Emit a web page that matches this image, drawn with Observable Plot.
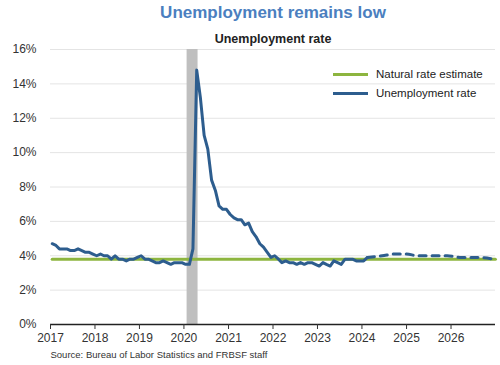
<!DOCTYPE html>
<html><head><meta charset="utf-8">
<script src="https://cdn.jsdelivr.net/npm/d3@7"></script>
<script src="https://cdn.jsdelivr.net/npm/@observablehq/plot@0.6"></script>
<style>
body{margin:0;background:#fff;font-family:"Liberation Sans",Arial,sans-serif;}
#wrap{position:relative;width:500px;height:365px;}
.leg{position:absolute;left:333px;height:14px;display:flex;align-items:center;font-size:11.5px;color:#222;white-space:nowrap;}
.leg .sw{display:inline-block;width:35px;height:3px;margin-right:8px;}
</style></head><body><div id="wrap"></div>
<script>
// Monthly unemployment rate, Jan 2017 - Feb 2024 (%)
const unempStartYear = 2017;
const unempRate = [
  4.7,4.6,4.4,4.4,4.4,4.3,4.3,4.4,4.3,4.2,4.2,4.1,
  4.0,4.1,4.0,4.0,3.8,4.0,3.8,3.8,3.7,3.8,3.8,3.9,
  4.0,3.8,3.8,3.7,3.6,3.6,3.7,3.6,3.5,3.6,3.6,3.6,
  3.5,3.5,4.4,14.8,13.2,11.0,10.2,8.4,7.8,6.9,6.7,6.7,
  6.4,6.2,6.1,6.1,5.8,5.9,5.4,5.1,4.7,4.5,4.2,3.9,
  4.0,3.8,3.6,3.7,3.6,3.6,3.5,3.6,3.5,3.6,3.6,3.5,
  3.4,3.6,3.5,3.4,3.7,3.6,3.5,3.8,3.8,3.8,3.7,3.7,
  3.7,3.9
];
// Forecast (dashed)
const forecastDates = ["2024-02-15","2024-06-15","2024-10-01","2025-01-01","2025-04-01","2025-12-01","2026-03-15","2026-08-01","2026-12-25"];
const forecastRate  = [3.9,4.0,4.1,4.1,4.0,4.0,3.9,3.9,3.8];
// Natural rate estimate
const naturalDates = ["2017-01-15","2026-12-31"];
const naturalRate  = [3.8,3.8];
// Recession shading
const recessionStart = "2020-01-27";
const recessionEnd   = "2020-04-26";
// Ticks
const yearTicks = [2017,2018,2019,2020,2021,2022,2023,2024,2025,2026];
const yTicks = [0,2,4,6,8,10,12,14,16];
const seriesNames = ["Natural rate estimate","Unemployment rate"];
const seriesColors = ["#8db53f","#2d5d8e"];

const parse = d3.utcParse("%Y-%m-%d");
const actual = unempRate.map((v,i)=>({date:new Date(Date.UTC(unempStartYear, i, 15)), value:v}));
const forecast = forecastDates.map((d,i)=>({date:parse(d), value:forecastRate[i]}));
const natural = naturalDates.map((d,i)=>({date:parse(d), value:naturalRate[i]}));
const recession = [{start:parse(recessionStart), end:parse(recessionEnd)}];
const yearDates = yearTicks.map(y=>new Date(Date.UTC(y,0,1)));

const chart = Plot.plot({
  width:500, height:365,
  marginLeft:50, marginRight:5, marginTop:49, marginBottom:41,
  style:{fontFamily:'"Liberation Sans",Arial,sans-serif', fontSize:"12px", color:"#333", background:"white", overflow:"visible"},
  x:{type:"utc", domain:[new Date(Date.UTC(2017,0,1)), new Date(Date.UTC(2027,0,1))], label:null},
  y:{domain:[0,16], label:null},
  marks:[
    Plot.gridY(yTicks, {stroke:"#e4e4e4", strokeOpacity:1}),
    Plot.rect(recession, {x1:"start", x2:"end", y1:0, y2:16, fill:"#bfbfbf"}),
    Plot.ruleY([0], {stroke:"#222", strokeWidth:1.5}),
    Plot.axisX(yearDates, {tickFormat:"%Y", tickSize:5, tickPadding:4, label:null}),
    Plot.axisY(yTicks, {tickFormat:d=>d+"%", tickSize:0, tickPadding:14, label:null}),
    Plot.line(natural, {x:"date", y:"value", stroke:seriesColors[0], strokeWidth:3}),
    Plot.line(actual, {x:"date", y:"value", stroke:seriesColors[1], strokeWidth:3, strokeLinejoin:"round"}),
    Plot.line(forecast, {x:"date", y:"value", stroke:seriesColors[1], strokeWidth:3, strokeDasharray:"7,6", curve:"monotone-x"}),
    Plot.text(["Unemployment remains low"], {text:d=>d, frameAnchor:"top", lineAnchor:"middle", dy:-37, fontSize:17, fontWeight:"bold", fill:"#4b7fbf"}),
    Plot.text(["Unemployment rate"], {text:d=>d, frameAnchor:"top", lineAnchor:"middle", dy:-10.5, fontSize:12.5, fontWeight:"bold", fill:"#222"}),
    Plot.text(["Source: Bureau of Labor Statistics and FRBSF staff"], {text:d=>d, frameAnchor:"bottom-left", lineAnchor:"middle", dy:30.5, textAnchor:"start", fontSize:9.5, fill:"#333"})
  ]
});
const wrap = document.getElementById("wrap");
wrap.appendChild(chart);
seriesNames.forEach((name,i)=>{
  const row = document.createElement("div");
  row.className = "leg";
  row.style.top = (67 + i*19) + "px";
  row.innerHTML = `<span class="sw" style="background:${seriesColors[i]}"></span>${name}`;
  wrap.appendChild(row);
});
</script></body></html>
